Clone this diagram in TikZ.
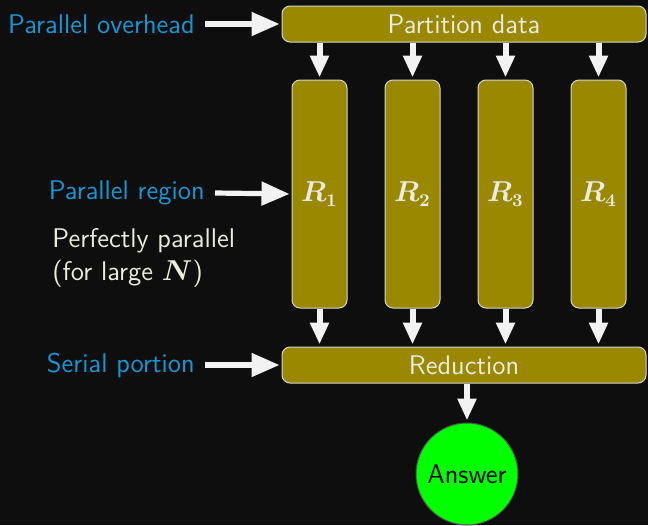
\documentclass[tikz,border=0pt]{standalone}
\usetikzlibrary{arrows.meta}
\definecolor{bgc}{RGB}{14,14,14}
\definecolor{olivebox}{RGB}{153,136,0}
\definecolor{boxtext}{RGB}{235,235,225}
\definecolor{labblue}{RGB}{20,152,212}
\definecolor{ansgreen}{RGB}{0,255,0}
\definecolor{arrowc}{RGB}{242,242,242}
\begin{document}
\begin{tikzpicture}[x=0.5pt,y=-0.5pt,
  every node/.style={font=\sffamily\fontsize{13.5}{16.5}\selectfont\boldmath},
  stagebox/.style={draw=boxtext!80!gray,line width=0.5pt,fill=olivebox,rounded corners=4pt,text=boxtext,inner sep=0pt},
  workbox/.style={stagebox,minimum width=27.5pt,minimum height=114pt},
  widebox/.style={stagebox,minimum width=182pt,minimum height=18pt},
  bluelab/.style={text=labblue,inner xsep=5pt,inner ysep=2pt},
  varrow/.style={draw=arrowc,line width=3pt,-{Triangle[width=9pt,length=11pt]},shorten >=1pt},
  harrow/.style={draw=arrowc,line width=2.6pt,-{Triangle[width=11.5pt,length=14pt]},shorten >=1pt}]
\fill[bgc] (0,0) rectangle (648,525);
\useasboundingbox (0,0) rectangle (648,525);
\node[widebox] (P) at (464,24) {Partition data};
\node[workbox] (R1) at (319.5,194) {$R_1$};
\node[workbox] (R2) at (412.5,194) {$R_2$};
\node[workbox] (R3) at (505.5,194) {$R_3$};
\node[workbox] (R4) at (598.5,194) {$R_4$};
\node[widebox] (Red) at (464,365) {Reduction};
\node[circle,draw=black!70,line width=0.5pt,fill=ansgreen,minimum size=51pt,inner sep=0pt,text=black] (Ans) at (467,474) {Answer};
\node[bluelab,anchor=east] (lo) at (205,24) {Parallel overhead};
\node[bluelab,anchor=east] (lr) at (215,193) {Parallel region};
\node[bluelab,anchor=east] (ls) at (205,365) {Serial portion};
\node[anchor=north west,align=left,text=boxtext,inner sep=0pt] (pp) at (52,228) {Perfectly parallel\\(for large $N$)};
\draw[harrow] (lo.east) -- (P.west);
\draw[harrow] (lr.east) -- (R1.west);
\draw[harrow] (ls.east) -- (Red.west);
\foreach \r in {R1,R2,R3,R4}{
  \draw[varrow] (P.south -| \r) -- (\r.north);
  \draw[varrow] (\r.south) -- (Red.north -| \r);
}
\draw[varrow] (Red.south -| Ans) -- (Ans.north);
\end{tikzpicture}
\end{document}
